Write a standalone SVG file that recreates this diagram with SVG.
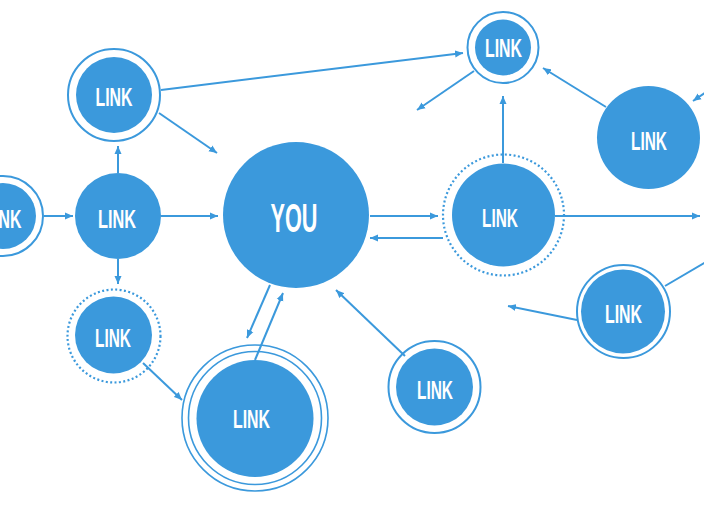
<svg xmlns="http://www.w3.org/2000/svg" width="704" height="506" viewBox="0 0 704 506">
<defs>
<marker id="arr" markerUnits="userSpaceOnUse" markerWidth="9" markerHeight="8" refX="8" refY="4" orient="auto">
<path d="M0,0.5 L8,4 L0,7.5 z" fill="#3b99dc"/>
</marker>
</defs>
<style>
.fill{fill:#3b99dc}
.ring{fill:none;stroke:#3b99dc;stroke-width:2}
.thin{fill:none;stroke:#3b99dc;stroke-width:1.6}
.dots{fill:none;stroke:#3b99dc;stroke-width:2.2;stroke-dasharray:2 2.4}
.lbl{font-family:"Liberation Sans",Arial,sans-serif;font-weight:bold;font-size:25px;fill:#ffffff;text-anchor:middle}
.you{font-size:40px}
.c line,.c polyline{stroke:#3b99dc;stroke-width:2;fill:none}
</style>
<rect width="704" height="506" fill="#ffffff"/>

<g class="c" id="connectors">
<line x1="161" y1="90" x2="463" y2="53" marker-end="url(#arr)"/>
<line x1="159" y1="113" x2="217" y2="153" marker-end="url(#arr)"/>
<line x1="118" y1="173" x2="118" y2="146" marker-end="url(#arr)"/>
<line x1="44" y1="216" x2="73" y2="216" marker-end="url(#arr)"/>
<line x1="161" y1="216" x2="218" y2="216" marker-end="url(#arr)"/>
<line x1="118" y1="259" x2="118" y2="284" marker-end="url(#arr)"/>
<line x1="143" y1="363" x2="182" y2="400" marker-end="url(#arr)"/>
<line x1="270" y1="285" x2="247" y2="338" marker-end="url(#arr)"/>
<line x1="255" y1="360" x2="283" y2="293" marker-end="url(#arr)"/>
<line x1="405" y1="356" x2="336" y2="290" marker-end="url(#arr)"/>
<line x1="370" y1="216" x2="438" y2="216" marker-end="url(#arr)"/>
<line x1="443" y1="238" x2="370" y2="238" marker-end="url(#arr)"/>
<line x1="503" y1="163" x2="503" y2="96" marker-end="url(#arr)"/>
<line x1="474" y1="71" x2="417" y2="110" marker-end="url(#arr)"/>
<line x1="606" y1="107" x2="543" y2="68" marker-end="url(#arr)"/>
<line x1="712" y1="88" x2="693" y2="101" marker-end="url(#arr)"/>
<line x1="555" y1="216" x2="700" y2="216" marker-end="url(#arr)"/>
<line x1="665" y1="286" x2="706" y2="262"/>
<line x1="577" y1="320" x2="508" y2="306" marker-end="url(#arr)"/>
</g>

<g id="node-topleft">
<circle class="ring" cx="114" cy="95" r="46"/>
<circle class="fill" cx="114" cy="95" r="38"/>
<text class="lbl" x="114" y="106" textLength="37" lengthAdjust="spacingAndGlyphs">LINK</text>
</g>

<g id="node-leftedge">
<circle class="ring" cx="3" cy="216" r="40"/>
<circle class="fill" cx="3" cy="216" r="33"/>
<text class="lbl" x="3" y="228" textLength="37" lengthAdjust="spacingAndGlyphs">LINK</text>
</g>

<g id="node-midleft">
<circle class="fill" cx="118" cy="216" r="43"/>
<text class="lbl" x="117" y="228" textLength="38" lengthAdjust="spacingAndGlyphs">LINK</text>
</g>

<g id="node-you">
<circle class="fill" cx="296" cy="215" r="73"/>
<text class="lbl you" x="294" y="232" textLength="47" lengthAdjust="spacingAndGlyphs">YOU</text>
</g>

<g id="node-top">
<circle class="ring" cx="503" cy="47.5" r="35.5"/>
<circle class="fill" cx="503" cy="47.5" r="28"/>
<text class="lbl" x="503.5" y="57" textLength="37" lengthAdjust="spacingAndGlyphs">LINK</text>
</g>

<g id="node-right">
<circle class="fill" cx="648.5" cy="137.5" r="51.5"/>
<text class="lbl" x="649" y="150" textLength="36" lengthAdjust="spacingAndGlyphs">LINK</text>
</g>

<g id="node-midright">
<circle class="dots" cx="503.5" cy="215" r="60.5"/>
<circle class="fill" cx="503.5" cy="215" r="51.5"/>
<text class="lbl" x="500" y="227" textLength="36" lengthAdjust="spacingAndGlyphs">LINK</text>
</g>

<g id="node-lowleft">
<circle class="dots" cx="114" cy="336" r="46.5"/>
<circle class="fill" cx="113.5" cy="335" r="38.5"/>
<text class="lbl" x="113" y="347" textLength="36" lengthAdjust="spacingAndGlyphs">LINK</text>
</g>

<g id="node-bottom">
<circle class="thin" cx="255" cy="418" r="73"/>
<circle class="thin" cx="255" cy="418" r="66.5"/>
<circle class="fill" cx="255" cy="418.5" r="58.5"/>
<text class="lbl" x="251.5" y="428" textLength="37" lengthAdjust="spacingAndGlyphs">LINK</text>
</g>

<g id="node-lowmid">
<circle class="ring" cx="434.5" cy="387" r="46"/>
<circle class="fill" cx="434.5" cy="387" r="38.5"/>
<text class="lbl" x="435" y="399" textLength="36" lengthAdjust="spacingAndGlyphs">LINK</text>
</g>

<g id="node-lowright">
<circle class="ring" cx="623.5" cy="311.5" r="46.5"/>
<circle class="fill" cx="623" cy="311.5" r="42"/>
<text class="lbl" x="623.5" y="323" textLength="37" lengthAdjust="spacingAndGlyphs">LINK</text>
</g>
</svg>
